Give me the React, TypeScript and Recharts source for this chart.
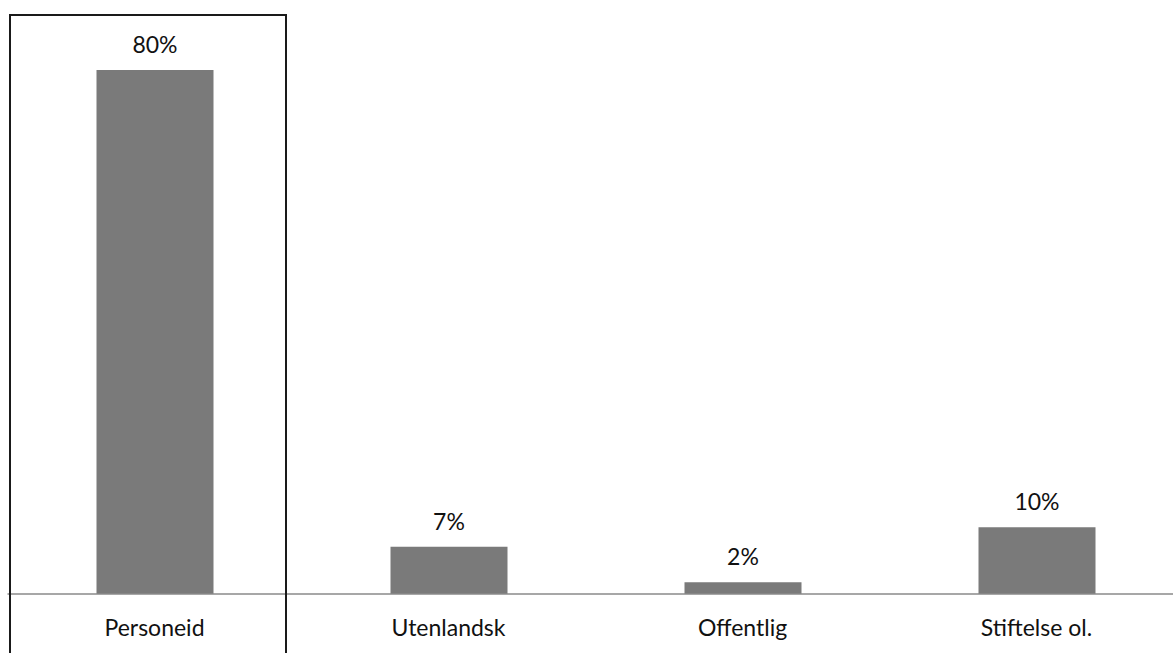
import { Bar, BarChart, LabelList, XAxis, YAxis } from "recharts";

const categories = ["Personeid", "Utenlandsk", "Offentlig", "Stiftelse ol."];
const shares = [80, 7.2, 1.8, 10.2];

const data = categories.map((name, i) => ({ name, share: shares[i] }));

const font = "Lato, 'Open Sans', sans-serif";

function pct(v: unknown): string {
  return `${Math.round(Number(v))}%`;
}

export default function App() {
  return (
    <div
      style={{
        position: "absolute",
        left: 0,
        top: 0,
        width: 1173,
        height: 653,
        overflow: "hidden",
        background: "#fff",
      }}
    >
      <BarChart
        width={1184}
        height={653}
        data={data}
        barSize={117}
        margin={{ top: 4.5, right: 0.5, left: 7.5, bottom: 0 }}
      >
        <XAxis
          dataKey="name"
          axisLine={{ stroke: "#8a8a8a", strokeWidth: 1.5 }}
          tickLine={false}
          tickSize={0}
          tickMargin={26}
          interval={0}
          tick={{ fill: "#111", fontSize: 23, fontFamily: font }}
          height={59}
        />
        <YAxis hide domain={[0, 90]} />
        <Bar dataKey="share" fill="#7a7a7a" isAnimationActive={false}>
          <LabelList
            dataKey="share"
            position="top"
            offset={17}
            formatter={pct}
            style={{ fill: "#111", fontSize: 23, fontFamily: font }}
          />
        </Bar>
      </BarChart>
      {/* frame around the first category */}
      <div
        style={{
          position: "absolute",
          left: 9,
          top: 14,
          width: 274,
          height: 700,
          border: "2px solid #1a1a1a",
          pointerEvents: "none",
        }}
      />
    </div>
  );
}
